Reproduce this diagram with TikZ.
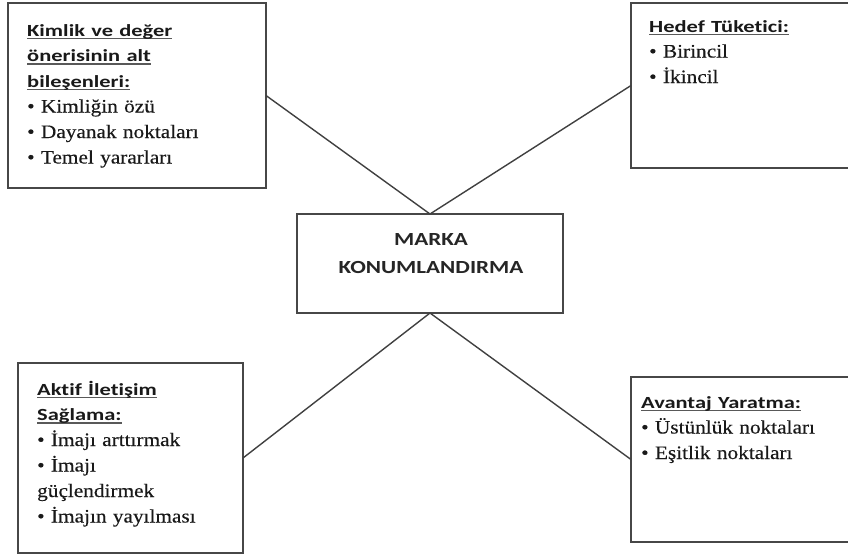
\documentclass[tikz,border=0pt]{standalone}
\usepackage{fontspec}
\setmainfont{Liberation Serif}[FakeStretch=1.12, FakeBold=0.35]
\newfontfamily\headfont{Carlito}[FakeStretch=1.32, Ligatures=NoCommon]
\newfontfamily\centerfont{Carlito}[FakeStretch=1.25, Ligatures=NoCommon]
% underlined heading line, rule sits close to the baseline
\newcommand\headline[1]{\leavevmode\setbox0\hbox{\headfont\bfseries\fontsize{17}{25.5}\selectfont #1}\rlap{\color{black!65}\rule[-3pt]{\wd0}{1.2pt}}\box0}
\begin{document}
\begin{tikzpicture}[x=1pt,y=-1pt,
  boxline/.style={draw=black!72, line width=1.6pt, inner sep=0pt, outer sep=0pt, anchor=north west},
  link/.style={draw=black!75, line width=1.4pt},
  boxtext/.style={anchor=base west, inner sep=0pt, align=left, text width=240pt,
    text=black!90, font=\fontsize{19}{25.5}\selectfont},
  titletext/.style={align=center, inner sep=0pt, text=black!85,
    font=\centerfont\bfseries\fontsize{18.5}{28}\selectfont}]
\useasboundingbox (0,0) rectangle (848,558);
\clip (0,0) rectangle (848,558);

% boxes
\node[boxline, minimum width=258pt, minimum height=185pt] (tl) at (8,3) {};
\node[boxline, minimum width=225pt, minimum height=165pt] (tr) at (631,3) {};
\node[boxline, minimum width=266pt, minimum height=99pt] (c) at (297,214) {};
\node[boxline, minimum width=225pt, minimum height=190pt] (bl) at (18,363) {};
\node[boxline, minimum width=225pt, minimum height=165pt] (br) at (631,377) {};

% connectors
\draw[link] (tl.east) -- (c.north);
\draw[link] (tr.west) -- (c.north);
\draw[link] (bl.east) -- (c.south);
\draw[link] (br.west) -- (c.south);

% texts
\node[titletext, anchor=base] (ctext) at (431,273) {MARKA\\KONUMLANDIRMA};

\node[boxtext] (tltext) at (27,36) {\headline{Kimlik ve değer}\\
  \headline{önerisinin alt}\\
  \headline{bileşenleri:}\\
  • Kimliğin özü\\
  • Dayanak noktaları\\
  • Temel yararları};

\node[boxtext] (trtext) at (649,32) {\headline{Hedef Tüketici:}\\
  • Birincil\\
  • İkincil};

\node[boxtext] (bltext) at (37,395) {\headline{Aktif İletişim}\\
  \headline{Sağlama:}\\
  • İmajı arttırmak\\
  • İmajı\\
  güçlendirmek\\
  • İmajın yayılması};

\node[boxtext] (brtext) at (641,408) {\headline{Avantaj Yaratma:}\\
  • Üstünlük noktaları\\
  • Eşitlik noktaları};
\end{tikzpicture}
\end{document}
